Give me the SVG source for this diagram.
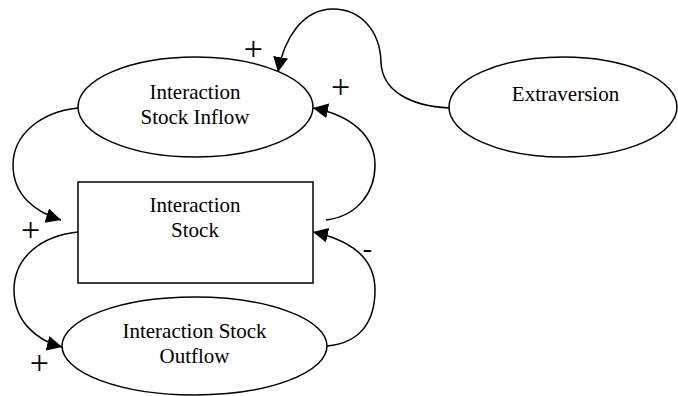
<svg xmlns="http://www.w3.org/2000/svg" width="678" height="396" viewBox="0 0 678 396">
<style>
.shape{fill:#fff;stroke:#000;stroke-width:1.5}
.conn{fill:none;stroke:#000;stroke-width:1.5}
text{font-family:"Liberation Serif","Times New Roman",serif;font-size:21px;fill:#000;text-anchor:middle}
.sign{font-size:34px}
.minus{font-size:28px}
</style>
<defs>
<marker id="arr" markerUnits="userSpaceOnUse" markerWidth="16" markerHeight="16" refX="15" refY="7.5" orient="auto">
<path d="M0,0 L15,7.5 L0,15 Z" fill="#000"/>
</marker>
</defs>
<rect width="678" height="396" fill="#fff"/>
<g id="connectors">
<path class="conn" d="M449,108 C412,106 382,92 381,62 C380,30 360,9 333,9 C303,9 284,38 278,72" marker-end="url(#arr)"/>
<path class="conn" d="M326,220 C358,216 375,192 375,165 C375,135 350,115 313,108" marker-end="url(#arr)"/>
<path class="conn" d="M78,108 C40,112 13,135 13,165 C13,195 35,212 61,220" marker-end="url(#arr)"/>
<path class="conn" d="M78,232 C40,236 14,258 14,290 C14,320 35,340 62,347" marker-end="url(#arr)"/>
<path class="conn" d="M327,346 C360,343 375,322 375,290 C375,258 350,240 313,232" marker-end="url(#arr)"/>
</g>
<g id="inflow">
<ellipse class="shape" cx="195.5" cy="107" rx="117.5" ry="50"/>
<text x="195" y="99">Interaction</text>
<text x="195" y="124">Stock Inflow</text>
</g>
<g id="stock">
<rect class="shape" x="78" y="182" width="235" height="101"/>
<text x="195" y="212">Interaction</text>
<text x="195" y="236.5">Stock</text>
</g>
<g id="outflow">
<ellipse class="shape" cx="194.5" cy="346" rx="132.5" ry="49"/>
<text x="194.5" y="337.5">Interaction Stock</text>
<text x="194.5" y="363">Outflow</text>
</g>
<g id="extraversion">
<ellipse class="shape" cx="563" cy="107" rx="114" ry="50"/>
<text x="565.5" y="100.5">Extraversion</text>
</g>
<g id="labels">
<text class="sign" x="253.3" y="60">+</text>
<text class="sign" x="340.7" y="97.5">+</text>
<text class="sign" x="30.5" y="241">+</text>
<text class="sign" x="39.3" y="373.5">+</text>
<text class="minus" x="367.5" y="256.5">-</text>
</g>
</svg>
